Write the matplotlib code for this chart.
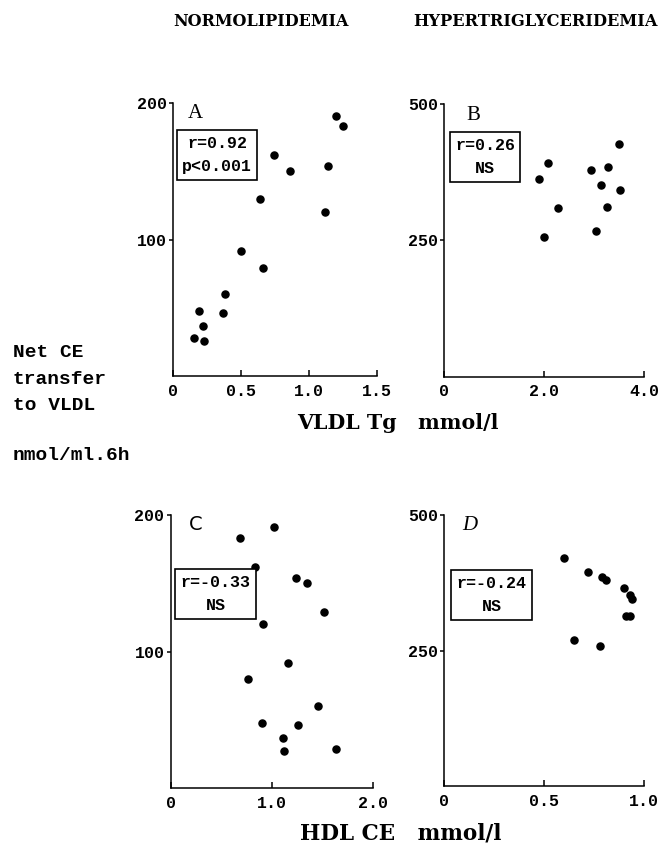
import matplotlib
matplotlib.use("Agg")
import matplotlib.pyplot as plt

# ---- data ----
# A: normolipidemia, VLDL Tg (mmol/l) vs net CE transfer (nmol/ml.6h)
a_x = [0.15, 0.19, 0.22, 0.23, 0.37, 0.38, 0.50, 0.66, 0.64, 0.74, 0.86, 1.12, 1.14, 1.20, 1.25]
a_y = [28, 48, 37, 26, 46, 60, 92, 79, 130, 162, 150, 120, 154, 191, 183]

# B: hypertriglyceridemia, VLDL Tg vs net CE transfer
b_x = [1.89, 2.07, 1.99, 2.27, 2.93, 3.04, 3.13, 3.28, 3.26, 3.50, 3.52]
b_y = [363, 391, 257, 310, 379, 268, 351, 384, 311, 426, 343]

# C: normolipidemia, HDL CE (mmol/l) vs net CE transfer
c_x = [0.68, 1.02, 0.83, 1.24, 1.35, 1.51, 0.91, 1.16, 0.76, 1.45, 0.90, 1.26, 1.11, 1.12, 1.63]
c_y = [183, 191, 162, 154, 150, 129, 120, 92, 80, 60, 48, 46, 37, 27, 29]

# D: hypertriglyceridemia, HDL CE vs net CE transfer
d_x = [0.60, 0.72, 0.79, 0.81, 0.90, 0.93, 0.94, 0.91, 0.93, 0.65, 0.78]
d_y = [420, 394, 386, 380, 365, 353, 345, 313, 313, 270, 259]

W, H = 659, 846
fig = plt.figure(figsize=(W / 100, H / 100), dpi=100)

MONO = "Liberation Mono"
SERIF = "Liberation Serif"
WIDE_SERIF = "DejaVu Serif"


def px(x, y):
    # pixel position (from top-left) -> figure fraction
    return x / W, 1 - y / H


def make_axes(left, top, right, bottom):
    l, t = px(left, top)
    r, b = px(right, bottom)
    return fig.add_axes([l, b, r - l, t - b])


def style(ax, xlim, xticks, xlabels, ylim, yticks):
    ax.set_xlim(*xlim)
    ax.set_ylim(*ylim)
    ax.spines["top"].set_visible(False)
    ax.spines["right"].set_visible(False)
    for s in ("left", "bottom"):
        ax.spines[s].set_linewidth(1.1)
    ax.set_xticks(xticks)
    ax.set_xticklabels(xlabels)
    ax.set_yticks(yticks)
    ax.set_yticklabels([str(v) for v in yticks])
    ax.tick_params(axis="x", direction="in", length=4, width=1.1, pad=5.5)
    ax.tick_params(axis="y", direction="out", length=3, width=1.1, pad=1.5)
    for lab in ax.get_xticklabels() + ax.get_yticklabels():
        lab.set_fontfamily(MONO)
        lab.set_fontweight("bold")
        lab.set_fontsize(12)


def stat_box(cx, cy, text):
    x, y = px(cx, cy)
    fig.text(x, y, text, ha="center", va="center", family=MONO,
             fontweight="bold", fontsize=12, linespacing=1.7,
             bbox=dict(boxstyle="square,pad=0.32", fc="white", ec="black", lw=1.2))


axA = make_axes(173.3, 103.3, 376.7, 376)
axA.scatter(a_x, a_y, s=26, color="black", marker="o", zorder=3)
style(axA, (0, 1.5), [0, 0.5, 1.0, 1.5], ["0", "0.5", "1.0", "1.5"], (0, 200), [100, 200])

axB = make_axes(444.3, 104, 644, 376.7)
axB.scatter(b_x, b_y, s=26, color="black", marker="o", zorder=3)
style(axB, (0, 4.0), [0, 2.0, 4.0], ["0", "2.0", "4.0"], (0, 500), [250, 500])

axC = make_axes(170.7, 515, 373.3, 788.3)
axC.scatter(c_x, c_y, s=26, color="black", marker="o", zorder=3)
style(axC, (0, 2.0), [0, 1.0, 2.0], ["0", "1.0", "2.0"], (0, 200), [100, 200])

axD = make_axes(444, 515, 644, 786)
axD.scatter(d_x, d_y, s=26, color="black", marker="o", zorder=3)
style(axD, (0, 1.0), [0, 0.5, 1.0], ["0", "0.5", "1.0"], (0, 500), [250, 500])

# panel letters
fig.text(*px(195, 113), "A", ha="center", va="center", family=SERIF, fontsize=15)
fig.text(*px(473, 115), "B", ha="center", va="center", family=SERIF, fontsize=15)
fig.text(*px(196, 525), "C", ha="center", va="center", family="DejaVu Sans", fontsize=14)
fig.text(*px(470, 525), "D", ha="center", va="center", family=SERIF, style="italic", fontsize=15)

# correlation boxes
stat_box(217, 155, "r=0.92\np<0.001")
stat_box(485, 157, "r=0.26\nNS")
stat_box(215.5, 594, "r=-0.33\nNS")
stat_box(491.5, 595, "r=-0.24\nNS")

# column titles
fig.text(*px(261, 22), "NORMOLIPIDEMIA", ha="center", va="center",
         family=WIDE_SERIF, fontweight="bold", fontsize=11.5)
fig.text(*px(536, 22), "HYPERTRIGLYCERIDEMIA", ha="center", va="center",
         family=WIDE_SERIF, fontweight="bold", fontsize=11.7)

# shared y label
fig.text(*px(13, 379), "Net CE\ntransfer\nto VLDL", ha="left", va="center",
         family=MONO, fontweight="bold", fontsize=14, linespacing=1.7)
fig.text(*px(13, 455), "nmol/ml.6h", ha="left", va="center",
         family=MONO, fontweight="bold", fontsize=14)

# x labels
fig.text(*px(297, 423), "VLDL Tg   mmol/l", ha="left", va="center",
         family=WIDE_SERIF, fontweight="bold", fontsize=14.8)
fig.text(*px(300, 833), "HDL CE   mmol/l", ha="left", va="center",
         family=WIDE_SERIF, fontweight="bold", fontsize=15.5)

fig.savefig("out.png", dpi=100)
